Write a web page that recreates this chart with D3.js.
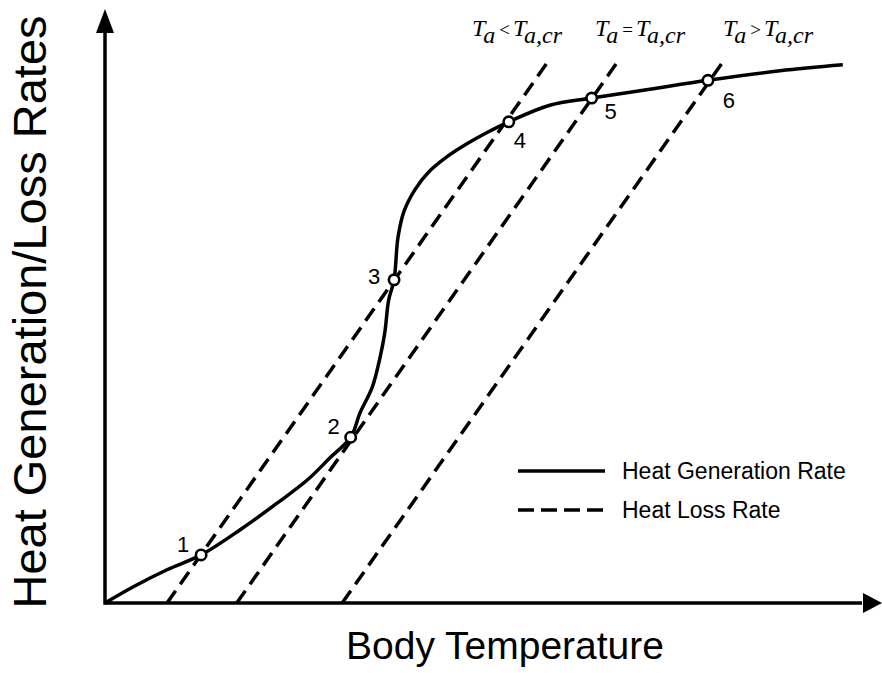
<!DOCTYPE html>
<html>
<head>
<meta charset="utf-8">
<script src="https://cdn.jsdelivr.net/npm/d3@7"></script>
<style>
  body { margin: 0; background: #fff; }
  text { font-family: "Liberation Sans", Arial, sans-serif; fill: #000; }
  .serif { font-family: "Liberation Serif", "Times New Roman", serif; }
</style>
</head>
<body>
<div id="chart"></div>
<script>
// heat generation rate curve (body temperature, rate)
var genTemp = [0, 3.6, 8.0, 12.4, 17.4, 22.2, 26.1, 29.0, 31.7, 32.9, 34.5, 35.5, 36.1, 36.6, 37.3,
               37.8, 38.6, 40.0, 41.8, 44.1, 46.7, 49.3, 52.1, 57.4, 62.8, 70.3, 77.8, 87.1, 95.2];
var genRate = [0, 2.7, 5.6, 8.1, 12.3, 16.8, 20.7, 24.4, 27.9, 32.0, 36.4, 41.4, 45.5, 51.0, 54.4,
               61.5, 66.0, 69.6, 72.6, 75.1, 77.3, 79.2, 81.0, 83.8, 85.0, 86.5, 88.0, 89.6, 90.6];

// heat loss lines: start on the temperature axis, end at top
var lossNames = ["lt", "eq", "gt"];
var lossStart = [8.0, 17.0, 30.6];
var lossEnd   = [57.3, 66.3, 79.9];
var lossTop   = 91.4;

// intersection points
var ptLabels = ["1", "2", "3", "4", "5", "6"];
var ptTemp = [12.4, 31.7, 37.3, 52.1, 62.8, 77.8];
var ptRate = [8.1, 27.9, 54.4, 81.0, 85.0, 88.0];

var legendLabels = ["Heat Generation Rate", "Heat Loss Rate"];

// layout only
var ptOffsets = [[-18, -3], [-17, -3], [-20, 4], [11, 26], [19, 21], [21, 28]];
var condSigns = ["<", "=", ">"];
var condX = [472, 595, 723];

var W = 882, H = 673;
var svg = d3.select("#chart").append("svg")
    .attr("width", W)
    .attr("height", H);

var x = d3.scaleLinear().domain([0, 100]).range([105, 880]);
var y = d3.scaleLinear().domain([0, 100]).range([603, 9]);

// axes with arrowheads
svg.append("line")
    .attr("x1", x(0)).attr("y1", y(0))
    .attr("x2", x(100) - 18).attr("y2", y(0))
    .attr("stroke", "#000").attr("stroke-width", 3.5);
svg.append("line")
    .attr("x1", x(0)).attr("y1", y(0) + 1.75)
    .attr("x2", x(0)).attr("y2", y(100) + 20)
    .attr("stroke", "#000").attr("stroke-width", 3.5);
svg.append("path")
    .attr("d", "M" + (x(100) + 2) + "," + y(0) + "L" + (x(100) - 17) + "," + (y(0) - 10) +
               "L" + (x(100) - 17) + "," + (y(0) + 10) + "Z")
    .attr("fill", "#000");
svg.append("path")
    .attr("d", "M" + x(0) + "," + y(100) + "L" + (x(0) - 9) + "," + (y(100) + 24) +
               "L" + (x(0) + 9) + "," + (y(100) + 24) + "Z")
    .attr("fill", "#000");

// heat loss lines
var lossData = lossNames.map(function (n, i) {
    return [[lossStart[i], 0], [lossEnd[i], lossTop]];
});
var line = d3.line()
    .x(function (d) { return x(d[0]); })
    .y(function (d) { return y(d[1]); });

svg.selectAll(".loss")
    .data(lossData)
    .enter()
    .append("path")
    .attr("class", "loss")
    .attr("d", line)
    .attr("fill", "none")
    .attr("stroke", "#000")
    .attr("stroke-width", 3.5)
    .attr("stroke-dasharray", "15,8");

// heat generation curve
var genData = genTemp.map(function (t, i) { return [t, genRate[i]]; });
svg.append("path")
    .datum(genData)
    .attr("d", line.curve(d3.curveCatmullRom.alpha(0.5)))
    .attr("fill", "none")
    .attr("stroke", "#000")
    .attr("stroke-width", 3.5);

// points
var pts = ptLabels.map(function (l, i) {
    return { label: l, t: ptTemp[i], r: ptRate[i], off: ptOffsets[i] };
});
svg.selectAll(".pt")
    .data(pts)
    .enter()
    .append("circle")
    .attr("class", "pt")
    .attr("cx", function (d) { return x(d.t); })
    .attr("cy", function (d) { return y(d.r); })
    .attr("r", 5.2)
    .attr("fill", "#fff")
    .attr("stroke", "#000")
    .attr("stroke-width", 2.6);

svg.selectAll(".ptlabel")
    .data(pts)
    .enter()
    .append("text")
    .attr("class", "ptlabel")
    .attr("x", function (d) { return x(d.t) + d.off[0]; })
    .attr("y", function (d) { return y(d.r) + d.off[1]; })
    .attr("text-anchor", "middle")
    .attr("font-size", "22px")
    .text(function (d) { return d.label; });

// condition labels above the loss lines
condSigns.forEach(function (s, i) {
    var t = svg.append("text")
        .attr("class", "serif")
        .attr("x", condX[i])
        .attr("y", 36)
        .attr("font-size", "24px");
    t.append("tspan").attr("font-style", "italic").text("T");
    t.append("tspan").attr("font-style", "italic").attr("dy", 7).text("a");
    t.append("tspan").attr("dy", -7).attr("font-size", "19px").attr("dx", 4).text(s);
    t.append("tspan").attr("font-style", "italic").attr("dx", 3).text("T");
    t.append("tspan").attr("font-style", "italic").attr("dy", 7).text("a,cr");
});

// legend
var legend = svg.append("g").attr("transform", "translate(518,471)");
legendLabels.forEach(function (l, i) {
    legend.append("line")
        .attr("x1", 0).attr("x2", 87)
        .attr("y1", i * 39).attr("y2", i * 39)
        .attr("stroke", "#000")
        .attr("stroke-width", 3.5)
        .attr("stroke-dasharray", i === 0 ? null : "16,7");
    legend.append("text")
        .attr("x", 104)
        .attr("y", i * 39)
        .attr("dy", "0.35em")
        .attr("font-size", "23px")
        .text(l);
});

// axis titles
svg.append("text")
    .attr("x", 505)
    .attr("y", 659)
    .attr("text-anchor", "middle")
    .attr("font-size", "39px")
    .text("Body Temperature");

svg.append("text")
    .attr("transform", "translate(46,312) rotate(-90)")
    .attr("text-anchor", "middle")
    .attr("font-size", "47px")
    .text("Heat Generation/Loss Rates");
</script>
</body>
</html>
